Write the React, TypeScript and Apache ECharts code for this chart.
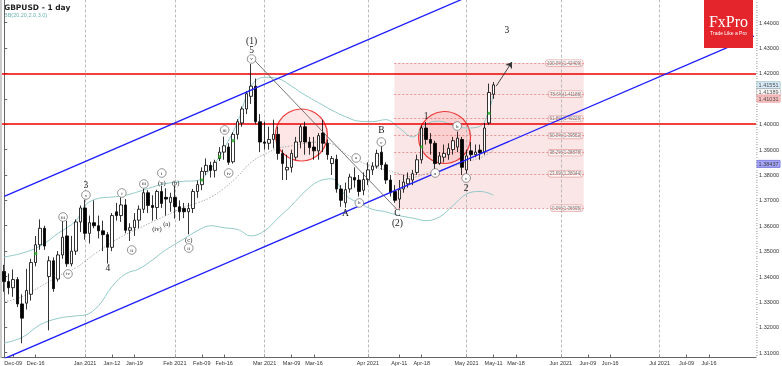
import React, { useEffect, useRef } from "react";
import * as echarts from "echarts";

// ---------- categories (trading days) ----------
const HOLIDAYS = ["2020-12-25", "2021-01-01"];
const CATEGORY_COUNT = 168;
function buildDates(): string[] {
  const out: string[] = [];
  const d = new Date(Date.UTC(2020, 11, 7));
  while (out.length < CATEGORY_COUNT) {
    const day = d.getUTCDay();
    const s = d.toISOString().slice(0, 10);
    if (day !== 0 && day !== 6 && !HOLIDAYS.includes(s)) out.push(s);
    d.setUTCDate(d.getUTCDate() + 1);
  }
  return out;
}
const dates = buildDates();

// ---------- OHLC ----------
const open = [
  1.342, 1.338, 1.3356, 1.3388, 1.3292, 1.3295, 1.333, 1.3455, 1.3525, 1.359,
  1.34, 1.3462, 1.339, 1.3485, 1.356, 1.345, 1.35, 1.3615,
  1.367, 1.357, 1.3612, 1.36, 1.358, 1.3565, 1.3515, 1.3655, 1.364, 1.3682,
  1.3582, 1.3592, 1.3622, 1.3665, 1.373, 1.368, 1.3672, 1.3735, 1.3712, 1.3692,
  1.3712, 1.3675, 1.3668, 1.3655, 1.3668, 1.3735, 1.3762, 1.3814, 1.3838, 1.3818,
  1.3865, 1.389, 1.391, 1.3852, 1.396, 1.4005, 1.406, 1.411, 1.415, 1.401,
  1.393, 1.3925, 1.394, 1.396, 1.3885, 1.382, 1.383, 1.387, 1.393, 1.399,
  1.393, 1.391, 1.3895, 1.3965, 1.3925, 1.3845, 1.3862, 1.3745, 1.369, 1.3745,
  1.379, 1.378, 1.374, 1.3782, 1.382, 1.3835, 1.389, 1.384, 1.378, 1.3735,
  1.3705, 1.3745, 1.3765, 1.378, 1.381, 1.386, 1.3985, 1.394, 1.3925, 1.3845,
  1.387, 1.388, 1.39, 1.391, 1.394, 1.382, 1.3895, 1.388, 1.3898, 1.389,
  1.4005, 1.4118,
];
const close = [
  1.338, 1.3356, 1.3388, 1.3292, 1.3236, 1.3345, 1.3455, 1.3525, 1.359, 1.352,
  1.3462, 1.3352, 1.3485, 1.3555, 1.345, 1.35, 1.3615, 1.367,
  1.357, 1.3612, 1.36, 1.358, 1.3565, 1.3515, 1.364, 1.364, 1.3682, 1.3582,
  1.3592, 1.3622, 1.3665, 1.373, 1.368, 1.3672, 1.3735, 1.3688, 1.3705, 1.3712,
  1.3675, 1.3655, 1.3655, 1.3668, 1.3735, 1.3762, 1.3814, 1.3838, 1.3818, 1.385,
  1.389, 1.3915, 1.385, 1.396, 1.401, 1.406, 1.412, 1.415, 1.401, 1.393,
  1.3925, 1.394, 1.396, 1.3885, 1.3845, 1.383, 1.3885, 1.393, 1.399, 1.393,
  1.3908, 1.3895, 1.3955, 1.3925, 1.388, 1.3865, 1.3745, 1.37, 1.3742, 1.3792,
  1.378, 1.3735, 1.3782, 1.382, 1.3835, 1.3885, 1.384, 1.378, 1.373, 1.37,
  1.3742, 1.3772, 1.3785, 1.3805, 1.386, 1.3985, 1.394, 1.3925, 1.3845, 1.3875,
  1.3885, 1.3905, 1.3935, 1.3945, 1.383, 1.3875, 1.388, 1.389, 1.3888, 1.3985,
  1.4125, 1.4155,
];
const high = [
  1.3446, 1.3412, 1.3428, 1.3398, 1.333, 1.343, 1.347, 1.356, 1.3625, 1.36,
  1.348, 1.3475, 1.35, 1.362, 1.362, 1.356, 1.3625, 1.368,
  1.3703, 1.364, 1.37, 1.364, 1.362, 1.3575, 1.365, 1.369, 1.3712, 1.3705,
  1.361, 1.365, 1.368, 1.3746, 1.374, 1.372, 1.3742, 1.3758, 1.3748, 1.373,
  1.3759, 1.37, 1.369, 1.369, 1.3745, 1.3778, 1.383, 1.3865, 1.3852, 1.386,
  1.391, 1.3951, 1.3925, 1.3968, 1.402, 1.407, 1.413, 1.4237, 1.418, 1.404,
  1.401, 1.399, 1.4018, 1.399, 1.39, 1.388, 1.39, 1.395, 1.4, 1.401,
  1.395, 1.395, 1.3965, 1.4017, 1.394, 1.3875, 1.388, 1.376, 1.377, 1.3805,
  1.383, 1.38, 1.381, 1.385, 1.385, 1.39, 1.3919, 1.385, 1.38, 1.376,
  1.378, 1.38, 1.381, 1.382, 1.388, 1.3995, 1.4009, 1.3965, 1.3935, 1.389,
  1.392, 1.3925, 1.395, 1.3971, 1.395, 1.39, 1.393, 1.392, 1.392, 1.4005,
  1.416, 1.4166,
];
const low = [
  1.334, 1.333, 1.332, 1.328, 1.3137, 1.327, 1.3305, 1.344, 1.3505, 1.3505,
  1.3188, 1.334, 1.338, 1.347, 1.3438, 1.344, 1.3485, 1.3575,
  1.3545, 1.353, 1.359, 1.355, 1.35, 1.3451, 1.35, 1.362, 1.3615, 1.357,
  1.354, 1.356, 1.359, 1.365, 1.365, 1.362, 1.3626, 1.367, 1.364, 1.3655,
  1.3628, 1.362, 1.363, 1.3566, 1.365, 1.371, 1.374, 1.38, 1.379, 1.379,
  1.3855, 1.386, 1.384, 1.3845, 1.394, 1.399, 1.404, 1.408, 1.4, 1.389,
  1.39, 1.39, 1.3905, 1.386, 1.378, 1.378, 1.381, 1.386, 1.3905, 1.388,
  1.388, 1.386, 1.386, 1.389, 1.386, 1.38, 1.373, 1.3675, 1.3671, 1.373,
  1.375, 1.3715, 1.372, 1.376, 1.38, 1.3825, 1.382, 1.3765, 1.3715, 1.369,
  1.3669, 1.373, 1.375, 1.376, 1.38, 1.3845, 1.392, 1.388, 1.3822, 1.384,
  1.385, 1.386, 1.388, 1.389, 1.38, 1.3805, 1.3855, 1.387, 1.386, 1.388,
  1.3998, 1.41,
];

// ---------- Bollinger bands (read at sample candles) ----------
const bbIdx = [0, 4, 8, 12, 16, 18, 21, 24, 27, 30, 33, 36, 40, 43, 46, 49, 52, 55, 58, 61, 64, 67, 70, 73, 76, 79, 82, 85, 88, 91, 94, 97, 100, 103, 106, 108, 109];
const bbUpper = [1.3477, 1.3492, 1.352, 1.357, 1.362, 1.368, 1.3708, 1.3713, 1.372, 1.3735, 1.3752, 1.3766, 1.3775, 1.3778, 1.3825, 1.3905, 1.401, 1.415, 1.4185, 1.418, 1.415, 1.4115, 1.4085, 1.4055, 1.403, 1.4012, 1.401, 1.4018, 1.3985, 1.395, 1.4, 1.4012, 1.3995, 1.3985, 1.3992, 1.4055, 1.412];
const bbMid = [1.33, 1.332, 1.336, 1.34, 1.3435, 1.346, 1.35, 1.3535, 1.3565, 1.359, 1.3615, 1.364, 1.3672, 1.369, 1.3712, 1.3748, 1.3795, 1.385, 1.3882, 1.3905, 1.3915, 1.3925, 1.393, 1.3922, 1.3885, 1.3855, 1.3835, 1.382, 1.3805, 1.3792, 1.3805, 1.3818, 1.3835, 1.3852, 1.3868, 1.3885, 1.3898];
const bbLower = [1.3138, 1.316, 1.321, 1.3235, 1.3245, 1.3248, 1.3285, 1.336, 1.341, 1.343, 1.3465, 1.3505, 1.3548, 1.358, 1.36, 1.3592, 1.3585, 1.356, 1.358, 1.363, 1.368, 1.3735, 1.3775, 1.3785, 1.372, 1.369, 1.3665, 1.3655, 1.364, 1.363, 1.362, 1.3635, 1.368, 1.3725, 1.3735, 1.3728, 1.372];

// ---------- axes ----------
const xTicks: [string, string][] = [
  ["2020-12-09", "Dec-09"], ["2020-12-16", "Dec-16"], ["2021-01-04", "Jan 2021"],
  ["2021-01-12", "Jan-12"], ["2021-01-19", "Jan-19"], ["2021-02-01", "Feb 2021"],
  ["2021-02-09", "Feb-09"], ["2021-02-16", "Feb-16"], ["2021-03-01", "Mar 2021"],
  ["2021-03-09", "Mar-09"], ["2021-03-16", "Mar-16"], ["2021-04-01", "Apr 2021"],
  ["2021-04-12", "Apr-11"], ["2021-04-19", "Apr-18"], ["2021-05-03", "May 2021"],
  ["2021-05-11", "May-11"], ["2021-05-18", "Mar-18"], ["2021-06-01", "Jun 2021"],
  ["2021-06-09", "Jun-09"], ["2021-06-16", "Jun-16"], ["2021-07-01", "Jul 2021"],
  ["2021-07-09", "Jul-09"], ["2021-07-16", "Jul-16"],
];
const monthStarts = ["2021-01-04", "2021-02-01", "2021-03-01", "2021-04-01", "2021-05-03", "2021-06-01", "2021-07-01"];
const yTicks = [1.31, 1.32, 1.33, 1.34, 1.35, 1.36, 1.37, 1.38, 1.39, 1.4, 1.41, 1.42, 1.43, 1.44];
// 1.41000 is hidden under the price boxes in the reference
const yLabels = [1.31, 1.32, 1.33, 1.34, 1.35, 1.36, 1.37, 1.38, 1.39, 1.4, 1.42, 1.43, 1.44];
const Y_MIN = 1.30809;
const Y_MAX = 1.44894;

// ---------- overlays ----------
const redLevels = [1.4243, 1.3998];
const upperChannel: [number, number][] = [[0, 1.3716], [110, 1.45533]];
const lowerChannel: [number, number][] = [[0, 1.30761], [167, 1.43472]];
const trendLine: [number, number][] = [[55.2, 1.4262], [87.3, 1.3668]];
const arrowLine: [number, number][] = [[109.6, 1.415], [113.1, 1.4245]];
const fibRange = [86.9, 129.1];
const fibLevels = [1.42409, 1.41188, 1.40226, 1.39552, 1.38878, 1.38044, 1.36695];
const fibNames = ["100.0%", "78.6%", "61.8%", "50.0%", "38.2%", "23.6%", "0.0%"];
const circles: [number, number][] = [[66.2, 1.39575], [98.1, 1.39477]];
const greenMarks: [number, number][] = [[7, 1.349], [44, 1.378], [48, 1.3872], [51, 1.3935], [93, 1.3911], [108, 1.4043]];
const bigLabels: [string, number, number][] = [
  ["3", 18.2, 1.37605], ["4", 23.1, 1.34335], ["(1)", 55.1, 1.43279], ["5", 55.1, 1.42924],
  ["A", 76, 1.36503], ["B", 84, 1.39772], ["C", 87.6, 1.36503], ["(2)", 87.6, 1.36109],
  ["1", 94, 1.40324], ["2", 102.9, 1.37487], ["3", 112, 1.43712],
];
const circledLabels: [string, number, number][] = [
  ["iii", 13.1, 1.36344], ["iv", 14.2, 1.34099], ["v", 18.2, 1.37211], ["i", 26.2, 1.3729],
  ["ii", 28.4, 1.35044], ["iii", 31.1, 1.37645], ["i", 35.1, 1.38078], ["ii", 41.1, 1.35123],
  ["iii", 49.1, 1.39772], ["iv", 50, 1.38078], ["v", 55.1, 1.4257], ["a", 78.4, 1.3867],
  ["b", 79.1, 1.36897], ["c", 84, 1.39299], ["a", 96, 1.38078], ["b", 100.9, 1.39929],
  ["c", 102.9, 1.3788],
];
const parenLabels: [string, number, number][] = [
  ["(iv)", 34, 1.35872], ["(v)", 35.1, 1.37723], ["(a)", 36.2, 1.36108],
  ["(b)", 38.2, 1.37723], ["(c)", 41.1, 1.35477],
];
// price, background, border, vertical nudge (px) so boxes do not overlap
const priceBoxes: [number, string, string, number][] = [
  [1.41551, "#cfe6f5", "#7aa", 0.5], [1.41389, "#ffffff", "#888", 3.5],
  [1.41031, "#f5b3b3", "#d77", 0.5], [1.38437, "#8f8ff2", "#55c", 0],
];

const SERIF = "Liberation Serif";
const SANS = "Liberation Sans";

function textSeries(list: [string, number, number][], size: number, circled: boolean) {
  return {
    type: "custom",
    xAxisIndex: 1,
    yAxisIndex: 0,
    z: 8,
    clip: false,
    data: list.map(([, x, y]) => [x, y]),
    renderItem: (params: any, api: any) => {
      const p = api.coord([api.value(0), api.value(1)]);
      const label = list[params.dataIndex][0];
      const text = {
        type: "text",
        x: p[0],
        y: p[1],
        style: {
          text: label, fill: "#1a1a1a", fontSize: size, fontFamily: SERIF,
          align: "center", verticalAlign: "middle",
        },
      };
      if (!circled) return text;
      return {
        type: "group",
        children: [
          {
            type: "circle",
            shape: { cx: p[0], cy: p[1], r: 4.3 },
            style: { fill: "#ffffff", stroke: "#666", lineWidth: 0.7 },
          },
          text,
        ],
      };
    },
  };
}

export default function App() {
  const ref = useRef<HTMLDivElement>(null);
  useEffect(() => {
    if (!ref.current) return;
    const chart = echarts.init(ref.current, undefined, { renderer: "svg" });
    const tickIndex = new Map<number, string>(xTicks.map(([d, t]) => [dates.indexOf(d), t]));
    const candles = open.map((o, i) => [o, close[i], low[i], high[i]]);
    const minorTicks = Array.from({ length: 140 }, (_, k) => +(1.309 + k * 0.001).toFixed(3));

    const option: any = {
      animation: false,
      grid: { left: 2, right: 24, top: 0, bottom: 8.5 },
      xAxis: [
        {
          type: "category",
          data: dates,
          boundaryGap: true,
          axisLine: { lineStyle: { color: "#666", width: 1 } },
          axisTick: {
            show: true, inside: true, length: 3, alignWithLabel: true,
            interval: (i: number) => tickIndex.has(i),
            lineStyle: { color: "#666" },
          },
          axisLabel: {
            interval: (i: number) => tickIndex.has(i),
            formatter: (_v: string, i: number) => tickIndex.get(i) ?? "",
            fontSize: 5.5, color: "#333", margin: 2, fontFamily: SANS,
          },
          splitLine: { show: false },
        },
        { type: "value", min: -0.5, max: CATEGORY_COUNT - 0.5, show: false },
      ],
      yAxis: [
        {
          type: "value", position: "right", min: Y_MIN, max: Y_MAX, scale: true,
          axisLine: { show: true, lineStyle: { color: "#666" } },
          axisTick: { show: true, customValues: yTicks, length: 3, lineStyle: { color: "#666" } },
          axisLabel: {
            customValues: yLabels, formatter: (v: number) => v.toFixed(5),
            fontSize: 5.5, color: "#333", margin: 3, fontFamily: SANS,
          },
          splitLine: { show: false },
        },
        {
          type: "value", position: "right", min: Y_MIN, max: Y_MAX, scale: true,
          axisLine: { show: false },
          axisTick: { show: true, customValues: minorTicks, length: 1.5, lineStyle: { color: "#888", width: 0.6 } },
          axisLabel: { show: false },
          splitLine: { show: false },
        },
      ],
      series: [
        // fib box
        {
          type: "scatter", xAxisIndex: 1, yAxisIndex: 0, z: 1, clip: false,
          symbolSize: 0,
          data: fibLevels.map((v, k) => ({ value: [129.0, v], name: `${fibNames[k]}(${v.toFixed(5)})` })),
          label: {
            show: true, position: "left", distance: 0.5, formatter: "{b}",
            fontSize: 4.5, color: "#555", fontFamily: SANS,
            backgroundColor: "#fff6f6", borderColor: "#e09090", borderWidth: 0.6,
            borderRadius: 2, padding: [0.5, 1.2],
          },
          markArea: {
            silent: true,
            itemStyle: { color: "rgba(232,140,140,0.22)" },
            data: [[{ coord: [fibRange[0], fibLevels[6]] }, { coord: [fibRange[1], fibLevels[0]] }]],
          },
          markLine: {
            silent: true, symbol: ["none", "none"], label: { show: false },
            lineStyle: { color: "#e07070", width: 0.7, type: [2, 2] },
            data: fibLevels.map((v) => [{ coord: [fibRange[0], v] }, { coord: [fibRange[1], v] }]),
          },
        },
        // red circles + red horizontal levels
        {
          type: "scatter", xAxisIndex: 1, yAxisIndex: 0, z: 2,
          data: circles, symbolSize: 52,
          itemStyle: { color: "rgba(255,70,70,0.17)", borderColor: "#e81010", borderWidth: 1.2 },
          markLine: {
            silent: true, symbol: ["none", "none"], label: { show: false },
            lineStyle: { color: "#ee0000", width: 1.6, type: "solid" },
            data: redLevels.map((v) => ({ yAxis: v })),
          },
        },
        // BB
        {
          type: "line", xAxisIndex: 1, yAxisIndex: 0, z: 3, smooth: 0.4, symbol: "none",
          data: bbIdx.map((x, k) => [x, bbUpper[k]]),
          lineStyle: { color: "#93c9c9", width: 1 },
        },
        {
          type: "line", xAxisIndex: 1, yAxisIndex: 0, z: 3, smooth: 0.4, symbol: "none",
          data: bbIdx.map((x, k) => [x, bbMid[k]]),
          lineStyle: { color: "#999", width: 0.8, type: [1.5, 1.5] },
          markLine: {
            silent: true, symbol: ["none", "none"], label: { show: false },
            lineStyle: { color: "#aaa", width: 0.8, type: [3, 2] },
            data: monthStarts.map((d) => ({ xAxis: dates.indexOf(d) })),
          },
        },
        {
          type: "line", xAxisIndex: 1, yAxisIndex: 0, z: 3, smooth: 0.4, symbol: "none",
          data: bbIdx.map((x, k) => [x, bbLower[k]]),
          lineStyle: { color: "#93c9c9", width: 1 },
        },
        // candles
        {
          type: "candlestick", xAxisIndex: 0, yAxisIndex: 0, z: 5,
          data: candles, barWidth: 3,
          itemStyle: { color: "#ffffff", color0: "#000000", borderColor: "#000000", borderColor0: "#000000", borderWidth: 0.8 },
        },
        // channel lines
        {
          type: "line", xAxisIndex: 1, yAxisIndex: 0, z: 6, symbol: "none",
          data: upperChannel, lineStyle: { color: "#1e1eff", width: 1.3 },
        },
        {
          type: "line", xAxisIndex: 1, yAxisIndex: 0, z: 6, symbol: "none",
          data: lowerChannel, lineStyle: { color: "#1e1eff", width: 1.3 },
        },
        // grey trend
        {
          type: "line", xAxisIndex: 1, yAxisIndex: 0, z: 6, symbol: "none",
          data: trendLine, lineStyle: { color: "#555", width: 0.8 },
        },
        // arrow
        {
          type: "lines", coordinateSystem: "cartesian2d", xAxisIndex: 1, yAxisIndex: 0, z: 6,
          symbol: ["none", "arrow"], symbolSize: 6,
          lineStyle: { color: "#333", width: 0.9, opacity: 1 },
          data: [{ coords: arrowLine }],
        },
        // green markers
        {
          type: "scatter", xAxisIndex: 1, yAxisIndex: 0, z: 7,
          data: greenMarks, symbol: "rect", symbolSize: 3,
          itemStyle: { color: "#22aa22" },
        },
        // wave labels
        textSeries(circledLabels, 5, true),
        textSeries(parenLabels, 6.5, false),
        textSeries(bigLabels, 9.5, false),
        // right price boxes
        {
          type: "scatter", xAxisIndex: 1, yAxisIndex: 0, z: 9, clip: false,
          symbolSize: 0,
          data: priceBoxes.map(([v, bg, bc, dy]) => ({
            value: [CATEGORY_COUNT - 0.5, v], name: v.toFixed(5),
            label: { backgroundColor: bg, borderColor: bc, offset: [0, dy] },
          })),
          label: {
            show: true, position: "right", distance: 1, formatter: "{b}",
            fontSize: 5.5, color: "#222", fontFamily: SANS, borderWidth: 0.5,
            padding: [0.5, 1.5],
          },
        },
      ],
      graphic: [
        { type: "line", shape: { x1: 1, y1: 0, x2: 1, y2: 358 }, style: { stroke: "#999", lineWidth: 1 } },
        { type: "text", x: 4, y: 3, style: { text: "GBPUSD - 1 day", fontSize: 7.5, fontWeight: "bold", fill: "#222", fontFamily: "DejaVu Sans" } },
        { type: "text", x: 4, y: 12, style: { text: "BB(20,20,2.0,3.0)", fontSize: 5.5, fill: "#6ab3b3", fontFamily: SANS } },
        { type: "rect", z: 100, shape: { x: 704, y: 0, width: 49, height: 48 }, style: { fill: "#e4252b" } },
        { type: "text", z: 101, x: 728.5, y: 21, style: { text: "FxPro", fill: "#fff", fontSize: 16, fontFamily: SERIF, align: "center", verticalAlign: "middle" } },
        { type: "text", z: 101, x: 728.5, y: 33, style: { text: "Trade Like a Pro", fill: "#fff", fontSize: 5, fontFamily: SANS, align: "center", verticalAlign: "middle" } },
      ],
    };
    chart.setOption(option);
    return () => chart.dispose();
  }, []);
  return (
    <div
      ref={ref}
      style={{ position: "fixed", left: 0, top: 0, width: 782, height: 366, opacity: 0.999 }}
    />
  );
}
